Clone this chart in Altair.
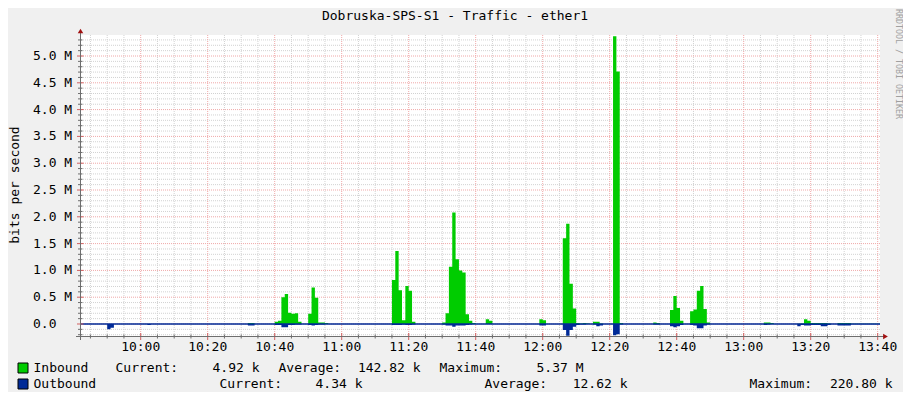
import altair as alt
import pandas as pd

# ---------------- data ----------------
title_text = "Dobruska-SPS-S1 - Traffic - ether1"
y_title = "bits per second"
watermark = "RRDTOOL / TOBI OETIKER"

times = ["09:42", "09:50", "09:51", "09:52", "10:02", "10:03", "10:32", "10:34",
         "10:40", "10:41", "10:42", "10:43", "10:44", "10:45", "10:46", "10:47", "10:48",
         "10:50", "10:51", "10:52", "10:53", "10:54", "10:55", "10:56",
         "11:15", "11:16", "11:17", "11:18", "11:19", "11:20", "11:21", "11:22",
         "11:30", "11:31", "11:32", "11:33", "11:34", "11:35", "11:36", "11:37", "11:38", "11:39", "11:40",
         "11:43", "11:44", "11:45", "11:59", "12:00", "12:01",
         "12:06", "12:07", "12:08", "12:09", "12:10", "12:11", "12:12", "12:13", "12:14",
         "12:15", "12:16", "12:17", "12:18", "12:21", "12:22", "12:23", "12:24",
         "12:33", "12:34", "12:35", "12:38", "12:39", "12:40", "12:41", "12:42",
         "12:44", "12:45", "12:46", "12:47", "12:48", "12:49", "12:50",
         "13:06", "13:07", "13:08", "13:09", "13:16", "13:17", "13:18", "13:19", "13:20",
         "13:21", "13:23", "13:25", "13:26", "13:28", "13:32", "13:41"]
inbound_M = [0, 0, 0, 0, 0, 0, 0.02, 0,
             0.04, 0.06, 0.50, 0.56, 0.21, 0.19, 0.20, 0.04, 0,
             0.19, 0.68, 0.49, 0.03, 0.03, 0.02, 0,
             0.82, 1.36, 0.63, 0.07, 0.71, 0.62, 0.04, 0,
             0.03, 0.20, 1.07, 2.08, 1.21, 1.00, 0.96, 0.18, 0.06, 0.02, 0,
             0.09, 0.06, 0, 0.09, 0.07, 0,
             1.60, 1.87, 0.75, 0.29, 0.02, 0.01, 0.02, 0.01, 0,
             0.04, 0.04, 0.01, 0, 5.37, 4.71, 0.02, 0,
             0.03, 0.02, 0, 0.26, 0.52, 0.30, 0.06, 0,
             0.24, 0.27, 0.62, 0.71, 0.28, 0.03, 0,
             0.03, 0.03, 0.02, 0, 0.005, 0.01, 0.09, 0.06, 0.02,
             0.02, 0.02, 0.01, 0, 0.02, 0.005, 0.005]
outbound_M = [0, 0.10, 0.07, 0, 0.02, 0, 0.03, 0,
              0.02, 0.02, 0.06, 0.06, 0.02, 0.02, 0.01, 0.01, 0,
              0.02, 0.03, 0.02, 0.01, 0.01, 0, 0,
              0.02, 0.02, 0.02, 0.01, 0.02, 0.02, 0.01, 0,
              0.01, 0.03, 0.03, 0.05, 0.03, 0.03, 0.03, 0.02, 0.01, 0, 0,
              0, 0, 0, 0.03, 0.03, 0,
              0.11, 0.2208, 0.11, 0.05, 0.02, 0.01, 0.01, 0, 0,
              0.01, 0.04, 0.03, 0, 0.21, 0.19, 0.01, 0,
              0.01, 0.01, 0, 0.04, 0.06, 0.04, 0.02, 0,
              0.02, 0.03, 0.08, 0.08, 0.03, 0.01, 0,
              0.02, 0.01, 0, 0, 0.04, 0.02, 0.03, 0.03, 0.02,
              0.02, 0.04, 0.02, 0, 0.03, 0.005, 0.005]

x_tick_labels = ["10:00", "10:20", "10:40", "11:00", "11:20", "11:40",
                 "12:00", "12:20", "12:40", "13:00", "13:20", "13:40"]
y_tick_values = [0.0, 0.5, 1.0, 1.5, 2.0, 2.5, 3.0, 3.5, 4.0, 4.5, 5.0]
y_tick_labels = ["0.0", "0.5 M", "1.0 M", "1.5 M", "2.0 M", "2.5 M",
                 "3.0 M", "3.5 M", "4.0 M", "4.5 M", "5.0 M"]

legend_names = ["Inbound", "Outbound"]
legend_current = ["4.92 k", "4.34 k"]
legend_average = ["142.82 k", "12.62 k"]
legend_maximum = ["5.37 M", "220.80 k"]

# ---------------- styling ----------------
FONT = "DejaVu Sans Mono"
GREEN = "#00CC00"
BLUE = "#002A97"
MINOR = "#d2d2d2"
MAJOR = "#f0a8a8"
AXIS = "#6e6e6e"
ARROW = "#a01010"


def to_min(s):
    p = s.split(":")
    return int(p[0]) * 60 + int(p[1])


xs = alt.Scale(domain=[582.18, 820.69], nice=False, zero=False)
ys = alt.Scale(domain=[-0.224, 5.392], nice=False, zero=False)

df = pd.DataFrame({"t": [to_min(s) for s in times], "inb": inbound_M, "outb": outbound_M})

major_x = [to_min(s) for s in x_tick_labels]
minor_x = [m for m in range(585, 821, 5) if m not in major_x]
minor_y = [round(k * 0.1, 1) for k in range(-2, 54) if k % 5 != 0]

layers = []

# grid
layers.append(alt.Chart(pd.DataFrame({"v": minor_x})).mark_rule(
    color=MINOR, strokeDash=[1, 1], strokeWidth=1).encode(x=alt.X("v:Q", scale=xs, axis=None)))
layers.append(alt.Chart(pd.DataFrame({"v": minor_y})).mark_rule(
    color=MINOR, strokeDash=[1, 1], strokeWidth=1).encode(y=alt.Y("v:Q", scale=ys, axis=None)))
layers.append(alt.Chart(pd.DataFrame({"v": major_x})).mark_rule(
    color=MAJOR, strokeDash=[1, 1], strokeWidth=1).encode(x=alt.X("v:Q", scale=xs, axis=None)))
layers.append(alt.Chart(pd.DataFrame({"v": y_tick_values})).mark_rule(
    color=MAJOR, strokeDash=[1, 1], strokeWidth=1).encode(y=alt.Y("v:Q", scale=ys, axis=None)))

# data areas
layers.append(alt.Chart(df).mark_area(interpolate="step-after", color=GREEN, clip=True).encode(
    x=alt.X("t:Q", scale=xs, axis=None),
    y=alt.Y("inb:Q", scale=ys, axis=None),
    y2=alt.datum(0)))
layers.append(alt.Chart(df).transform_calculate(neg="-datum.outb").mark_area(
    interpolate="step-after", color=BLUE, clip=True).encode(
    x=alt.X("t:Q", scale=xs, axis=None),
    y=alt.Y("neg:Q", scale=ys, axis=None),
    y2=alt.datum(0)))
layers.append(alt.Chart(pd.DataFrame({"v": [0.0]})).mark_rule(color=BLUE, strokeWidth=1.3).encode(
    y=alt.Y("v:Q", scale=ys, axis=None)))

# axis lines and ticks
layers.append(alt.Chart(pd.DataFrame({"v": minor_x})).mark_rule(color=AXIS).encode(
    x=alt.X("v:Q", scale=xs, axis=None), y=alt.value(299.5), y2=alt.value(303.5)))
layers.append(alt.Chart(pd.DataFrame({"v": major_x})).mark_rule(color="#d06060").encode(
    x=alt.X("v:Q", scale=xs, axis=None), y=alt.value(298), y2=alt.value(305)))
layers.append(alt.Chart(pd.DataFrame({"v": minor_y})).mark_rule(color=AXIS).encode(
    y=alt.Y("v:Q", scale=ys, axis=None), x=alt.value(-3), x2=alt.value(1.5)))
layers.append(alt.Chart(pd.DataFrame({"v": y_tick_values})).mark_rule(color="#d06060").encode(
    y=alt.Y("v:Q", scale=ys, axis=None), x=alt.value(-4), x2=alt.value(2.5)))
layers.append(alt.Chart(pd.DataFrame({"v": [0]})).mark_rule(color=AXIS, strokeWidth=1).encode(
    x=alt.value(-0.5), y=alt.value(-3), y2=alt.value(305)))
layers.append(alt.Chart(pd.DataFrame({"v": [0]})).mark_rule(color=AXIS, strokeWidth=1).encode(
    x=alt.value(-5), x2=alt.value(803), y=alt.value(301.5)))
layers.append(alt.Chart(pd.DataFrame({"v": [0]})).mark_point(
    shape="triangle-up", filled=True, color=ARROW, size=30, opacity=1).encode(
    x=alt.value(-0.5), y=alt.value(-4)))
layers.append(alt.Chart(pd.DataFrame({"v": [0]})).mark_point(
    shape="triangle-right", filled=True, color=ARROW, size=30, opacity=1).encode(
    x=alt.value(804.5), y=alt.value(301.5)))

# tick labels
layers.append(alt.Chart(pd.DataFrame({"v": y_tick_values, "s": y_tick_labels})).mark_text(
    align="left", baseline="middle", font=FONT, fontSize=13, color="black").encode(
    y=alt.Y("v:Q", scale=ys, axis=None), x=alt.value(-48), text="s:N"))
layers.append(alt.Chart(pd.DataFrame({"v": major_x, "s": x_tick_labels})).mark_text(
    align="center", baseline="middle", font=FONT, fontSize=13, color="black").encode(
    x=alt.X("v:Q", scale=xs, axis=None), y=alt.value(311.5), text="s:N"))


def label(text, x, y, size=13, align="left", color="black", angle=0):
    return alt.Chart(pd.DataFrame({"s": [text]})).mark_text(
        align=align, baseline="middle", font=FONT, fontSize=size, color=color, angle=angle).encode(
        x=alt.value(x), y=alt.value(y), text="s:N")


layers.append(label(title_text, 374, -19.5, size=13, align="center"))
layers.append(label(y_title, -66, 150, align="center", angle=270))
layers.append(label(watermark, 817, 29, size=8.3, align="center", color="#a0a0a0", angle=90))

# legend
row_y = [333, 349]
for i, c in enumerate([GREEN, BLUE]):
    layers.append(alt.Chart(pd.DataFrame({"v": [0]})).mark_rect(
        color=c, stroke="black", strokeWidth=1).encode(
        x=alt.value(-63), x2=alt.value(-53), y=alt.value(row_y[i] - 5), y2=alt.value(row_y[i] + 5)))
    layers.append(label(legend_names[i], -47.5, row_y[i]))

layers.append(label("Current:", 34.5, row_y[0]))
layers.append(label(legend_current[0], 178.5, row_y[0], align="right"))
layers.append(label("Average:", 197.5, row_y[0]))
layers.append(label(legend_average[0], 339.5, row_y[0], align="right"))
layers.append(label("Maximum:", 358.5, row_y[0]))
layers.append(label(legend_maximum[0], 502.5, row_y[0], align="right"))

layers.append(label("Current:", 138.5, row_y[1]))
layers.append(label(legend_current[1], 281.5, row_y[1], align="right"))
layers.append(label("Average:", 403.5, row_y[1]))
layers.append(label(legend_average[1], 546.5, row_y[1], align="right"))
layers.append(label("Maximum:", 668.5, row_y[1]))
layers.append(label(legend_maximum[1], 811.5, row_y[1], align="right"))

chart = alt.layer(*layers).properties(
    width=799, height=301,
    padding={"left": 73, "top": 27, "right": 23, "bottom": 56},
    autosize=alt.AutoSizeParams(type="none"),
    background="#f0f0f0",
).configure_view(fill="white", strokeWidth=0)

chart.save("out.html", embed_options={"renderer": "svg", "actions": False})
